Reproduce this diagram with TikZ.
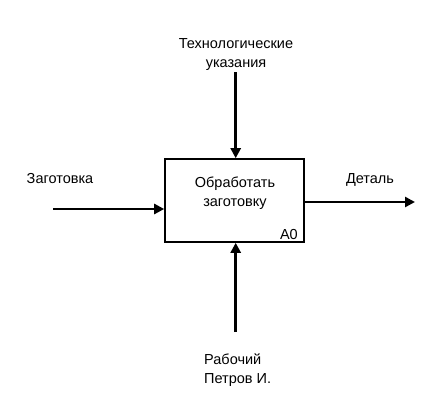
\documentclass[tikz,border=0pt]{standalone}
\usepackage{fontspec}
\setmainfont{Liberation Sans}
\usetikzlibrary{arrows.meta}
\begin{document}
\begin{tikzpicture}[x=1pt,y=-1pt,
  lbl/.style={font=\fontsize{14.5}{19}\selectfont, inner sep=0pt, align=center, anchor=base},
  flow/.style={line width=2.6pt, -{Triangle[length=10pt,width=10pt]}},
  func/.style={draw, line width=1.6pt, minimum width=139pt, minimum height=83pt, inner sep=0pt}]
\useasboundingbox (0,0) rectangle (440,400);
\node[func] (box) at (234.5,200.5) {};
\node[lbl] (fname) at (235,206) {Обработать\\заготовку};
\node[lbl, anchor=base east] (a0) at (298,239) {A0};
\node[lbl] (ctrl) at (236,67) {Технологические\\указания};
\node[lbl] (inp) at (60,183) {Заготовка};
\node[lbl] (outp) at (370,183) {Деталь};
\node[lbl, align=left, anchor=base west] (mech) at (204,383) {Рабочий\\Петров И.};
\coordinate (ctop) at (235.7,72);
\coordinate (istart) at (53,209);
\coordinate (oend) at (415,202);
\coordinate (mbot) at (235.7,332);
\draw[flow] (ctop) -- (ctop |- box.north);
\draw[flow] (istart) -- (istart -| box.west);
\draw[flow] (oend -| box.east) -- (oend);
\draw[flow] (mbot) -- (mbot |- box.south);
\end{tikzpicture}
\end{document}
